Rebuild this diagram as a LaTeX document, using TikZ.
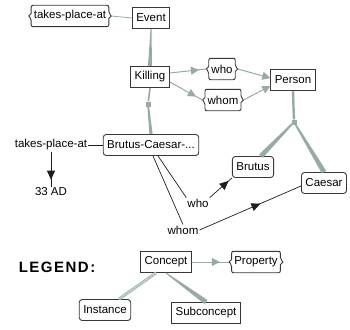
\documentclass[tikz,border=0pt]{standalone}
\usepackage{fontspec}
\setmainfont{Liberation Sans}
\newfontfamily\legendfont[LetterSpace=10]{Liberation Sans}
\usetikzlibrary{arrows.meta,calc,decorations.markings}
\definecolor{linkgray}{RGB}{150,170,166}
\definecolor{boxline}{RGB}{55,55,55}
\definecolor{inklink}{RGB}{30,30,30}
\newcommand{\mapfont}{\fontsize{11.5}{13}\selectfont}
% tapered link: from, to, start half width, end half width
\newcommand{\taperlink}[4]{%
  \fill[linkgray] ($(#1)!#3!90:(#2)$) -- ($(#2)!#4!-90:(#1)$)
    -- ($(#2)!#4!90:(#1)$) -- ($(#1)!#3!-90:(#2)$) -- cycle;}

\begin{document}
\begin{tikzpicture}[x=1pt, y=-1pt,
  cpt/.style={rectangle, draw=boxline, line width=0.9pt, fill=white,
              inner xsep=4pt, minimum height=21pt, font=\mapfont},
  inst/.style={cpt, rounded corners=3pt},
  lbl/.style={inner sep=1pt, font=\mapfont},
  prop/.style={inner xsep=5pt, minimum height=21pt, font=\mapfont,
    append after command={\pgfextra{\let\propnode\tikzlastnode
      \draw[boxline, line width=0.9pt, rounded corners=2pt]
        ([xshift=5pt]\propnode.north west) -- ([xshift=-5pt]\propnode.north east)
        -- ([xshift=-2.5pt]\propnode.north east) -- ([xshift=-2.5pt,yshift=2.5pt]\propnode.east)
        [sharp corners] -- (\propnode.east) -- ([xshift=-2.5pt,yshift=-2.5pt]\propnode.east)
        [rounded corners=2pt] -- ([xshift=-2.5pt]\propnode.south east) -- ([xshift=5pt]\propnode.south west)
        -- ([xshift=2.5pt]\propnode.south west) -- ([xshift=2.5pt,yshift=-2.5pt]\propnode.west)
        [sharp corners] -- (\propnode.west) -- ([xshift=2.5pt,yshift=2.5pt]\propnode.west)
        [rounded corners=2pt] -- ([xshift=2.5pt]\propnode.north west) -- cycle;}}},
  junc/.style={rectangle, fill=linkgray, minimum size=5pt, inner sep=0pt},
  glink/.style={draw=linkgray, line width=1pt},
  blink/.style={draw=inklink, line width=0.7pt},
  garr/.style={glink, postaction={decorate}, decoration={markings,
    mark=at position #1 with {\arrow[linkgray]{Triangle[length=8pt,width=8pt]}}}},
  barr/.style={blink, postaction={decorate}, decoration={markings,
    mark=at position #1 with {\arrow[inklink]{Triangle[length=9pt,width=8pt]}}}}
]
\useasboundingbox (0,0) rectangle (350,329);

% Concepts, instances and properties
\node[prop] (tpa)    at (70,16)   {takes-place-at};
\node[cpt]  (event)  at (151,18)  {Event};
\node[cpt]  (kill)   at (150,77)  {Killing};
\node[prop] (who)    at (222,69)  {who};
\node[prop] (whom)   at (223,100) {whom};
\node[cpt]  (person) at (293,80)  {Person};
\node[inst] (bc)     at (151,145) {Brutus-Caesar-...};
\node[lbl]  (tpab)   at (51,145)  {takes-place-at};
\node[lbl]  (ad)     at (51,192)  {33 AD};
\node[inst] (brutus) at (253,167) {Brutus};
\node[inst] (caesar) at (324,183) {Caesar};
\node[lbl]  (wholbl)  at (198,203) {who};
\node[lbl]  (whomlbl) at (183,230) {whom};
\node[junc] (j1) at (148,104) {};
\node[junc] (j2) at (294,122) {};

% Legend
\node[font=\legendfont\fontsize{15}{17}\selectfont\bfseries] (legend) at (57,267) {LEGEND:};
\node[cpt]  (concept) at (166,262) {Concept};
\node[prop] (property) at (256,262) {Property};
\node[inst] (instance) at (105,310) {Instance};
\node[cpt]  (subcpt)  at (206,313) {Subconcept};

% Gray links
\draw[glink, line width=0.8pt] (tpa.east) -- (event.west);
\taperlink{event.south}{kill.north}{0.5pt}{2pt}
\draw[glink, line width=1.6pt] (kill.south) -- (j1);
\taperlink{j1}{bc.north}{0.8pt}{1.6pt}
\draw[glink, line width=2.4pt] (person.south) -- (j2);
\taperlink{j2}{[xshift=8pt]brutus.north}{0.8pt}{2.5pt}
\taperlink{j2}{caesar.north}{0.8pt}{2.5pt}
\draw[garr=0.8] ([yshift=4pt]kill.east) -- (who.west);
\draw[garr=0.8] ([yshift=-5pt]kill.east) -- (whom.west);
\draw[garr=1]   (who.east) -- ([yshift=2pt]person.west);
\draw[garr=1]   (whom.east) -- ([yshift=-6pt]person.west);
\draw[garr=0.75] (concept.east) -- (property.west);
\taperlink{concept.south}{subcpt.north}{0.5pt}{2.5pt}
\draw[linkgray!80, line width=3pt] ([xshift=-10pt]concept.south) -- ([xshift=14pt]instance.north);
\draw[white, line width=0.8pt, dotted] ([xshift=-10pt]concept.south) -- ([xshift=14pt]instance.north);

% Black links
\draw[blink] (tpab.east) -- (bc.west);
\draw[barr=0.8] (tpab.south) -- (ad.north);
\draw[blink] ([xshift=7pt]bc.south) -- (wholbl.north west);
\draw[blink] ([xshift=2pt]bc.south) -- (whomlbl.north);
\draw[barr=0.85] (wholbl.north east) -- (brutus.south west);
\draw[barr=0.6] (whomlbl.east) -- ([yshift=-3pt]caesar.west);
\end{tikzpicture}
\end{document}
